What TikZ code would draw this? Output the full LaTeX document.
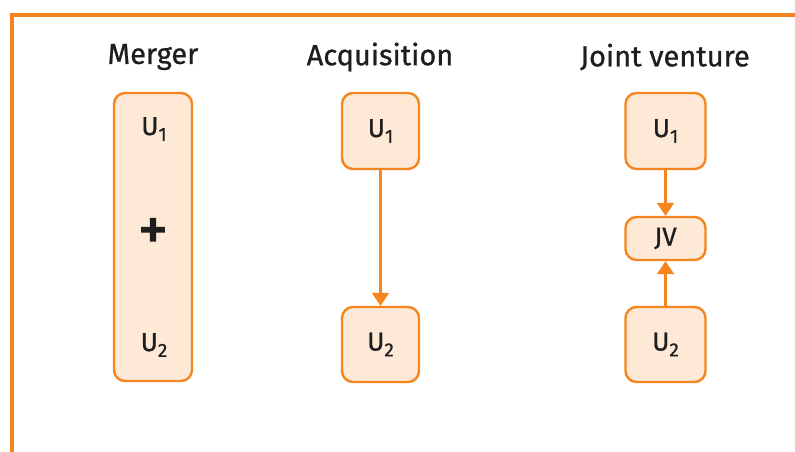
\documentclass[tikz,border=0pt]{standalone}
\usepackage{fontspec}
\setmainfont{Fira Sans}
\newfontfamily\medfont{Fira Sans}[FakeBold=0.8]
\newfontfamily\plusfont{Fira Sans}[FakeBold=2]
\usetikzlibrary{arrows.meta}
\definecolor{orng}{HTML}{F5851F}
\definecolor{peach}{HTML}{FDE9D6}
\definecolor{ink}{HTML}{1E1E1E}
\newcommand{\usub}[1]{U\raisebox{-0.42ex}{\fontsize{19}{20}\selectfont #1}}
\begin{document}
\begin{tikzpicture}[x=1pt,y=-1pt,
  ubox/.style={draw=orng,fill=peach,line width=2.4pt,rounded corners=11pt,inner sep=0pt},
  title/.style={font=\medfont\fontsize{29}{32}\selectfont,text=ink},
  lbl/.style={font=\medfont\fontsize{26}{30}\selectfont,text=ink},
  conn/.style={draw=orng,line width=2.2pt,-{Triangle[length=13pt,width=17pt]}}]
\useasboundingbox (0,0) rectangle (795,452);
\draw[orng,line width=3.5pt] (12,470) -- (12,15) -- (810,15);
% titles
\node[title] (tm) at (153,57) {Merger};
\node[title] (ta) at (380,57) {Acquisition};
\node[title] (tj) at (665,57) {Joint venture};
% merger
\node[ubox,minimum width=78pt,minimum height=288pt] (m) at (153,237) {};
\node[lbl] (m1) at (154,129) {\usub{1}};
\node[text=ink,font=\plusfont\fontsize{60}{60}\selectfont,inner sep=0pt] (mp) at (153,234) {+};
\node[lbl] (m2) at (154,345) {\usub{2}};
% acquisition
\node[ubox,lbl,minimum width=77pt,minimum height=76pt] (a1) at (380.5,131) {\usub{1}};
\node[ubox,lbl,minimum width=77pt,minimum height=75pt] (a2) at (380.5,344.5) {\usub{2}};
\draw[conn] (a1) -- (a2);
% joint venture
\node[ubox,lbl,minimum width=80pt,minimum height=76pt] (j1) at (665.5,131) {\usub{1}};
\node[ubox,lbl,minimum width=80pt,minimum height=43pt] (jv) at (665.5,238.5) {JV};
\node[ubox,lbl,minimum width=80pt,minimum height=75pt] (j2) at (665.5,344.5) {\usub{2}};
\draw[conn] (j1) -- (jv);
\draw[conn] (j2) -- (jv);
\end{tikzpicture}
\end{document}
